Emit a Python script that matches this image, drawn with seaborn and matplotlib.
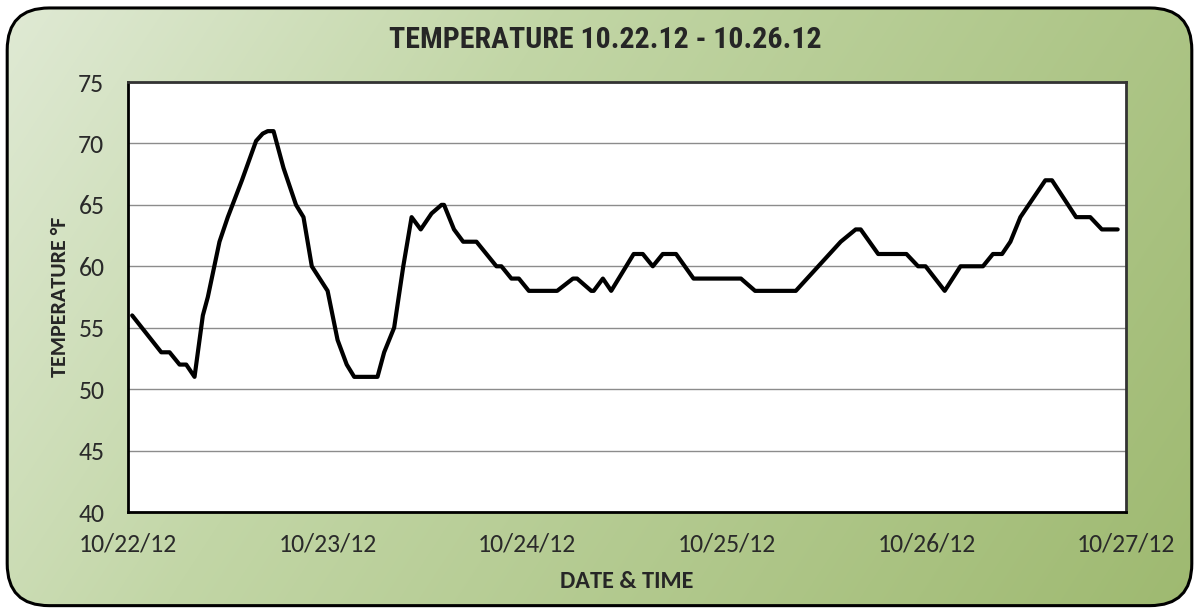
import numpy as np
import pandas as pd
import matplotlib
matplotlib.use("Agg")
import matplotlib.pyplot as plt
import matplotlib.dates as mdates
from matplotlib import font_manager
from matplotlib.patches import FancyBboxPatch
from matplotlib.ticker import MultipleLocator
import seaborn as sns

# hours since 10/22/12 00:00 and temperature readings (°F)
hours = [0.5, 4, 5, 6.2, 7, 8, 9, 9.6, 11, 12, 13.7, 15.4, 16.2, 16.8, 17.5, 18.7,
         20.2, 21.1, 22.1, 24, 25.2, 26.3, 27.2, 28.8, 30, 30.8, 32, 33.1,
         34.1, 35.2, 36.5, 37.7, 38, 39.2, 40.3, 41.9, 44.3, 44.9, 46.1, 47,
         48.2, 51.6, 53.5, 54, 55.7, 56, 57.1, 58.1, 60.8, 61.9, 63.1, 64.3,
         65.9, 68, 73.7, 75.4, 80.3, 85.7, 87.5, 88.1, 90.2, 93.6, 95, 95.9,
         98.2, 100.1, 102.8, 104, 105.1, 106.1, 107.3, 110.3, 111.1, 114,
         115.7, 117.1, 119]
temps = [56, 53, 53, 52, 52, 51, 56, 57.5, 62, 64, 67, 70.2, 70.8, 71, 71, 68,
         65, 64, 60, 58, 54, 52, 51, 51, 51, 53, 55, 60,
         64, 63, 64.3, 65, 65, 63, 62, 62, 60, 60, 59, 59,
         58, 58, 59, 59, 58, 58, 59, 58, 61, 61, 60, 61,
         61, 59, 59, 58, 58, 62, 63, 63, 61, 61, 60, 60,
         58, 60, 60, 61, 61, 62, 64, 67, 67, 64,
         64, 63, 63]

title = "TEMPERATURE 10.22.12 - 10.26.12"
start = pd.Timestamp("2012-10-22")
end = pd.Timestamp("2012-10-27")

df = pd.DataFrame({
    "time": start + pd.to_timedelta(hours, unit="h"),
    "temp": temps,
})

sns.set_style("white")

available = {f.name for f in font_manager.fontManager.ttflist}
def pick(*names):
    for n in names:
        if n in available:
            return n
    return "DejaVu Sans"

body_font = pick("Carlito", "Open Sans", "Lato", "DejaVu Sans")
title_font = pick("Liberation Sans Narrow", "Roboto Condensed", "Liberation Sans", "DejaVu Sans")
plt.rcParams["font.family"] = [body_font, "DejaVu Sans"]

fig = plt.figure(figsize=(11.99, 6.13), dpi=100)
fig.patch.set_alpha(0)

# rounded green gradient background
bg = fig.add_axes([0, 0, 1, 1], zorder=-10)
bg.set_xlim(0, 1)
bg.set_ylim(0, 1)
bg.axis("off")
gx, gy = np.meshgrid(np.linspace(0, 1, 300), np.linspace(1, 0, 150))
g = np.clip(0.75 * gx + 0.25 * (1 - gy), 0, 1)
c0 = np.array([0xe0, 0xea, 0xd5]) / 255
c1 = np.array([0xc2, 0xd6, 0xa6]) / 255
c2 = np.array([0x9e, 0xb9, 0x70]) / 255
w = np.where(g < 0.35, g / 0.35, (g - 0.35) / 0.65)[..., None]
img = np.where((g < 0.35)[..., None], c0 + (c1 - c0) * w, c1 + (c2 - c1) * w)
im = bg.imshow(img, extent=[0, 1, 0, 1], aspect="auto", interpolation="bilinear")
box = FancyBboxPatch((0.006, 0.012), 0.988, 0.975,
                     boxstyle="round,pad=0,rounding_size=0.035",
                     mutation_aspect=1199 / 613,
                     transform=bg.transAxes, facecolor="none",
                     edgecolor="black", linewidth=2.2)
bg.add_patch(box)
im.set_clip_path(box)

ax = fig.add_axes([128 / 1199, 1 - 512 / 613, (1126 - 128) / 1199, (512 - 82) / 613])
ax.set_facecolor("white")
sns.lineplot(data=df, x="time", y="temp", ax=ax, color="black", linewidth=3.0,
             solid_joinstyle="round", solid_capstyle="round")

ax.set_xlim(start, end)
ax.set_ylim(40, 75)
ax.xaxis.set_major_locator(mdates.DayLocator())
ax.xaxis.set_major_formatter(mdates.DateFormatter("%m/%d/%y"))
ax.xaxis.set_minor_locator(mdates.HourLocator(byhour=[0, 5, 10, 14, 19]))
ax.yaxis.set_major_locator(MultipleLocator(5))
ax.yaxis.set_minor_locator(MultipleLocator(1))
ax.grid(axis="y", which="major", color="#8c8c8c", linewidth=1.0)
ax.set_axisbelow(True)

for side in ["left", "bottom"]:
    ax.spines[side].set_color("black")
    ax.spines[side].set_linewidth(2.0)
for side in ["top", "right"]:
    ax.spines[side].set_color("#333333")
    ax.spines[side].set_linewidth(2.0)

ax.tick_params(axis="both", which="major", direction="inout", length=10, width=2,
               color="black", labelsize=18.5, labelcolor="#2a2a2a", pad=6)
ax.tick_params(axis="both", which="minor", direction="in", length=5, width=1.6,
               color="black")
ax.tick_params(axis="y", which="major", pad=12)
ax.tick_params(axis="x", which="major", pad=10)

ax.set_xlabel("DATE & TIME", fontsize=17.5, fontweight="bold", labelpad=11)
ax.set_ylabel("TEMPERATURE °F", fontsize=15.8, fontweight="bold", labelpad=6)
fig.text(0.505, 1 - 40 / 613, title, ha="center", va="center", fontsize=21.5,
         fontweight="bold", family=[title_font, "DejaVu Sans"])

fig.savefig("out.png", dpi=100)
